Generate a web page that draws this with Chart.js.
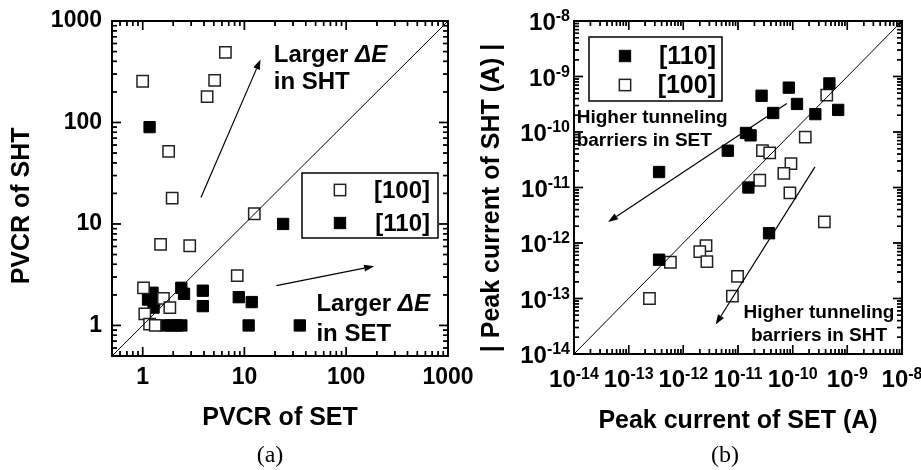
<!DOCTYPE html>
<html>
<head>
<meta charset="utf-8">
<script src="https://cdn.jsdelivr.net/npm/chart.js@4/dist/chart.umd.min.js"></script>
<style>
  html, body { margin: 0; padding: 0; background: #fff; }
  #wrap { position: relative; width: 921px; height: 470px; overflow: hidden; }
  .panel { position: absolute; top: 0; height: 470px; }
  #pa { left: 0; width: 480px; }
  #pb { left: 460px; width: 461px; }
</style>
</head>
<body>
<div id="wrap">
  <div class="panel" id="pa"><canvas id="ca" width="480" height="470"></canvas></div>
  <div class="panel" id="pb"><canvas id="cb" width="461" height="470"></canvas></div>
</div>
<script>
// ---- (a) PVCR of SET vs PVCR of SHT ----
const pvcrSet100 = [1.0, 6.5, 5.1, 4.3, 1.8, 1.95, 12.5, 1.5, 2.9, 8.5, 1.02, 1.6, 1.85, 1.05, 1.17, 1.33];
const pvcrSht100 = [255, 490, 260, 180, 52, 18, 12.6, 6.3, 6.1, 3.1, 2.35, 1.85, 1.5, 1.3, 1.03, 1.0];
const pvcrSet110 = [1.17, 24, 2.4, 2.55, 3.9, 3.9, 8.8, 11.8, 11, 35, 1.25, 1.13, 1.3, 1.28, 1.65, 1.9, 2.15, 2.4];
const pvcrSht110 = [90, 10, 2.35, 2.05, 2.2, 1.55, 1.9, 1.7, 1.0, 1.0, 2.1, 1.8, 1.75, 1.5, 1.0, 1.0, 1.0, 1.0];
const pvcrRange = [0.5, 1000];
const pvcrTicks = [1, 10, 100, 1000];

// ---- (b) peak currents (A) ----
const ipSet110 = [3.6e-13, 6.5e-12, 1.4e-11, 1.7e-11, 2.7e-11, 4.4e-11, 8.5e-11, 1.2e-10, 2.6e-10, 4.7e-10, 6.8e-10, 1.55e-11, 3.7e-11, 3.6e-13];
const ipSht110 = [1.9e-11, 4.6e-11, 9.6e-11, 8.7e-11, 4.5e-10, 2.2e-10, 6.3e-10, 3.2e-10, 2.1e-10, 7.5e-10, 2.5e-10, 1.0e-11, 1.5e-12, 5e-13];
const ipSet100 = [4.2e-10, 1.7e-10, 2.8e-11, 3.8e-11, 9.3e-11, 6.9e-11, 2.5e-11, 8.9e-11, 3.8e-10, 2.6e-12, 2e-12, 2.7e-12, 5.8e-13, 2.4e-13, 9.8e-12, 7.9e-12];
const ipSht100 = [4.6e-10, 8.1e-11, 4.6e-11, 4.2e-11, 2.7e-11, 1.8e-11, 1.35e-11, 8e-12, 2.4e-12, 9e-13, 7e-13, 4.6e-13, 4.5e-13, 1.0e-13, 2.5e-13, 1.1e-13];
const ipRange = [1e-14, 1e-8];
const ipTicks = [1e-14, 1e-13, 1e-12, 1e-11, 1e-10, 1e-9, 1e-8];

const SANS = '"Liberation Sans", Arial, sans-serif';
const SERIF = '"Liberation Serif", "Times New Roman", serif';

function zip(xs, ys) { return xs.map((v, i) => ({ x: v, y: ys[i] })); }

// "10" with a raised exponent, drawn at tick positions of the chart's own scales
function drawPowLabels(ctx, ca, scales, values) {
  const big = 'bold 24px ' + SANS, small = 'bold 16px ' + SANS;
  ctx.fillStyle = '#000';
  ctx.textBaseline = 'alphabetic';
  ctx.textAlign = 'left';
  values.forEach(v => {
    const e = String(Math.round(Math.log10(v)));
    ctx.font = big; const w1 = ctx.measureText('10').width;
    ctx.font = small; const w2 = ctx.measureText(e).width;
    const px = scales.x.getPixelForValue(v);
    let sx = px - (w1 + w2) / 2;
    ctx.font = big; ctx.fillText('10', sx, ca.bottom + 33);
    ctx.font = small; ctx.fillText(e, sx + w1, ca.bottom + 25);
    const py = scales.y.getPixelForValue(v);
    sx = ca.left - 4 - (w1 + w2);
    ctx.font = big; ctx.fillText('10', sx, py + 9);
    ctx.font = small; ctx.fillText(e, sx + w1, py);
  });
}

// position along an axis, from the scale's log range and the chart area
function axisPos(s, ca, v) {
  const f = (Math.log10(v) - Math.log10(s.min)) / (Math.log10(s.max) - Math.log10(s.min));
  return s.isHorizontal() ? ca.left + f * (ca.right - ca.left) : ca.bottom - f * (ca.bottom - ca.top);
}

function drawTicksAndFrame(chart) {
  const { ctx, chartArea: ca, scales } = chart;
  ctx.save();
  ctx.globalCompositeOperation = 'source-over';
  ctx.globalAlpha = 1;
  ctx.setLineDash([]);
  ctx.fillStyle = '#000000';
  const t = 1.4;
  ['x', 'y'].forEach(id => {
    const s = scales[id];
    const k0 = Math.floor(Math.log10(s.min)), k1 = Math.ceil(Math.log10(s.max));
    for (let k = k0; k <= k1; k++) {
      for (let m = 1; m <= 9; m++) {
        const v = m * Math.pow(10, k);
        if (v < s.min * 0.999 || v > s.max * 1.001) continue;
        const p = axisPos(s, ca, v);
        const len = m === 1 ? 9 : 5;
        if (id === 'x') {
          ctx.fillRect(p - t / 2, ca.bottom - len, t, len);
          ctx.fillRect(p - t / 2, ca.top, t, len);
        } else {
          ctx.fillRect(ca.left, p - t / 2, len, t);
          ctx.fillRect(ca.right - len, p - t / 2, len, t);
        }
      }
    }
  });
  ctx.strokeStyle = '#000';
  ctx.lineWidth = 2;
  ctx.strokeRect(ca.left, ca.top, ca.right - ca.left, ca.bottom - ca.top);
  ctx.restore();
}

// inward minor/major ticks on all four sides, plus the plot frame
const boxTicks = {
  id: 'boxTicks',
  afterDatasetsDraw(chart) { drawTicksAndFrame(chart); },
  afterDraw(chart) { drawTicksAndFrame(chart); }
};

// arrows, notes, legend box and panel caption
const extras = {
  id: 'extras',
  afterDatasetsDraw(chart, args, o) {
    const { ctx, scales: { x, y } } = chart;
    ctx.save();
    ctx.strokeStyle = '#000';
    ctx.fillStyle = '#000';
    ctx.lineWidth = 1.2;
    (o.arrows || []).forEach(a => {
      const x0 = x.getPixelForValue(a.from[0]), y0 = y.getPixelForValue(a.from[1]);
      const x1 = x.getPixelForValue(a.to[0]), y1 = y.getPixelForValue(a.to[1]);
      const ang = Math.atan2(y1 - y0, x1 - x0);
      const L = 10, W = 3.5;
      const bx = x1 - L * Math.cos(ang), by = y1 - L * Math.sin(ang);
      ctx.beginPath(); ctx.moveTo(x0, y0); ctx.lineTo(bx, by); ctx.stroke();
      ctx.beginPath(); ctx.moveTo(x1, y1);
      ctx.lineTo(bx - W * Math.sin(ang), by + W * Math.cos(ang));
      ctx.lineTo(bx + W * Math.sin(ang), by - W * Math.cos(ang));
      ctx.closePath(); ctx.fill();
    });
    ctx.textBaseline = 'alphabetic';
    (o.notes || []).forEach(n => {
      const px = x.getPixelForValue(n.at[0]), py = y.getPixelForValue(n.at[1]);
      n.lines.forEach((segs, i) => {
        const font = it => (it ? 'italic ' : '') + 'bold ' + n.size + 'px ' + SANS;
        let w = 0;
        segs.forEach(s => { ctx.font = font(s[1]); w += ctx.measureText(s[0]).width; });
        let cx = n.align === 'center' ? px - w / 2 : px;
        segs.forEach(s => {
          ctx.font = font(s[1]);
          ctx.textAlign = 'left';
          ctx.fillText(s[0], cx, py + i * n.lh);
          cx += ctx.measureText(s[0]).width;
        });
      });
    });
    ctx.restore();
  },
  afterDraw(chart, args, o) {
    const { ctx, chartArea: ca, scales } = chart;
    ctx.save();
    if (o.powLabels) drawPowLabels(ctx, ca, scales, o.powLabels);

    const lg = o.legend;
    if (lg) {
      const bx = ca.left + lg.box[0], by = ca.top + lg.box[1];
      ctx.lineWidth = 1.5;
      ctx.strokeStyle = '#000';
      ctx.strokeRect(bx, by, lg.box[2], lg.box[3]);
      lg.items.forEach((it, i) => {
        const ds = chart.data.datasets[it.ds];
        const mx = bx + lg.markerX, my = by + lg.rows[i];
        const h = ds.pointRadius * Math.SQRT1_2;
        ctx.fillStyle = ds.backgroundColor;
        ctx.fillRect(mx - h, my - h, 2 * h, 2 * h);
        ctx.lineWidth = ds.borderWidth;
        ctx.strokeStyle = ds.borderColor;
        ctx.strokeRect(mx - h, my - h, 2 * h, 2 * h);
        ctx.fillStyle = '#000';
        ctx.font = 'bold ' + lg.size + 'px ' + SANS;
        ctx.textAlign = 'right';
        ctx.textBaseline = 'middle';
        ctx.fillText(ds.label, bx + lg.textRight, my + 1);
      });
    }
    if (o.caption) {
      ctx.fillStyle = '#000';
      ctx.font = '24px ' + SERIF;
      ctx.textAlign = 'center';
      ctx.textBaseline = 'middle';
      ctx.fillText(o.caption.text, o.caption.x, o.caption.y);
    }
    ctx.restore();
  }
};

function fixTicks(values) {
  return scale => { scale.ticks = values.map(v => ({ value: v })); };
}

function makePanel(canvas, cfg) {
  return new Chart(canvas, {
    type: 'scatter',
    data: { datasets: cfg.datasets },
    options: {
      responsive: false,
      animation: false,
      events: [],
      devicePixelRatio: 1,
      layout: { padding: { top: 21, right: cfg.padRight, left: 0, bottom: 0 } },
      plugins: { legend: { display: false }, tooltip: { enabled: false }, extras: cfg.extras },
      scales: {
        x: {
          type: 'logarithmic', min: cfg.range[0], max: cfg.range[1], bounds: 'data',
          afterBuildTicks: fixTicks(cfg.ticks),
          afterFit: s => { s.height = cfg.xHeight; s.paddingLeft = 0; s.paddingRight = 0; },
          grid: { display: false, drawTicks: false },
          border: { display: false },
          ticks: { display: cfg.showTicks, callback: v => String(v), autoSkip: false, maxRotation: 0, padding: cfg.xPad,
            color: '#000', font: { family: SANS, weight: 'bold', size: 23 } },
          title: { display: true, text: cfg.xTitle, color: '#000',
            font: { family: SANS, weight: 'bold', size: 25 }, padding: { top: 0, bottom: cfg.xTitlePad } }
        },
        y: {
          type: 'logarithmic', min: cfg.range[0], max: cfg.range[1], bounds: 'data',
          afterBuildTicks: fixTicks(cfg.ticks),
          afterFit: s => { s.width = cfg.yWidth; s.paddingTop = 0; s.paddingBottom = 0; },
          grid: { display: false, drawTicks: false },
          border: { display: false },
          ticks: { display: cfg.showTicks, callback: v => String(v), autoSkip: false, padding: cfg.yPad,
            color: '#000', font: { family: SANS, weight: 'bold', size: 23 } },
          title: { display: true, text: cfg.yTitle, color: '#000',
            font: { family: SANS, weight: 'bold', size: 25 }, padding: { top: cfg.yTitlePad, bottom: 0 } }
        }
      }
    },
    plugins: [extras, boxTicks]
  });
}

const openStyle = { pointStyle: 'rect', pointRadius: 8, backgroundColor: '#fff', borderColor: '#222', borderWidth: 1.5 };
const filledStyle = { pointStyle: 'rect', pointRadius: 8, backgroundColor: '#000', borderColor: '#000', borderWidth: 1 };
const diagStyle = { showLine: true, borderColor: '#000', borderWidth: 1, pointRadius: 0, order: 0 };

makePanel(document.getElementById('ca'), {
  range: pvcrRange, ticks: pvcrTicks, showTicks: true,
  padRight: 32, xHeight: 114, yWidth: 112, xPad: 8, yPad: 10,
  xTitle: 'PVCR of SET', yTitle: 'PVCR of SHT     ', xTitlePad: 37, yTitlePad: 7,
  datasets: [
    Object.assign({ label: '[100]', data: zip(pvcrSet100, pvcrSht100), order: 1 }, openStyle),
    Object.assign({ label: '[110]', data: zip(pvcrSet110, pvcrSht110), order: 2 }, filledStyle),
    Object.assign({ label: 'y = x', data: zip(pvcrRange, pvcrRange) }, diagStyle)
  ],
  extras: {
    arrows: [
      { from: [3.74, 18.2], to: [14.4, 418] },
      { from: [20.6, 2.47], to: [188, 3.84] }
    ],
    notes: [
      { at: [19.4, 395], size: 24, lh: 27, lines: [[['Larger ', false], ['\u0394E', true]], [['in SHT', false]]] },
      { at: [51, 1.376], size: 24, lh: 30, lines: [[['Larger ', false], ['\u0394E', true]], [['in SET', false]]] }
    ],
    legend: { box: [190, 152, 136, 65], markerX: 38, rows: [17, 50], textRight: 128, size: 24,
      items: [{ ds: 0 }, { ds: 1 }] },
    caption: { text: '(a)', x: 270, y: 456 }
  }
});

makePanel(document.getElementById('cb'), {
  range: ipRange, ticks: ipTicks, showTicks: false,
  padRight: 19, xHeight: 116, yWidth: 114, xPad: 6, yPad: 4,
  xTitle: 'Peak current of SET (A)', yTitle: '| Peak current of SHT (A) |   ', xTitlePad: 34, yTitlePad: 17,
  datasets: [
    Object.assign({ label: '[110]', data: zip(ipSet110, ipSht110), order: 1 }, filledStyle),
    Object.assign({ label: '[100]', data: zip(ipSet100, ipSht100), order: 2 }, openStyle),
    Object.assign({ label: 'y = x', data: zip(ipRange, ipRange) }, diagStyle)
  ],
  extras: {
    powLabels: ipTicks,
    arrows: [
      { from: [7.8e-11, 3.26e-10], to: [4.2e-14, 2.4e-12] },
      { from: [2.56e-10, 2.35e-11], to: [3.9e-12, 3.4e-14] }
    ],
    notes: [
      { at: [1.12e-14, 1.44e-10], size: 19, lh: 23, lines: [[['Higher tunneling', false]], [['barriers in SET', false]]] },
      { at: [3.03e-10, 4.4e-14], size: 19, lh: 23, align: 'center', lines: [[['Higher tunneling', false]], [['barriers in SHT', false]]] }
    ],
    legend: { box: [15, 16, 133, 64], markerX: 36, rows: [19, 48], textRight: 127, size: 25,
      items: [{ ds: 0 }, { ds: 1 }] },
    caption: { text: '(b)', x: 265, y: 456 }
  }
});
</script>
</body>
</html>
